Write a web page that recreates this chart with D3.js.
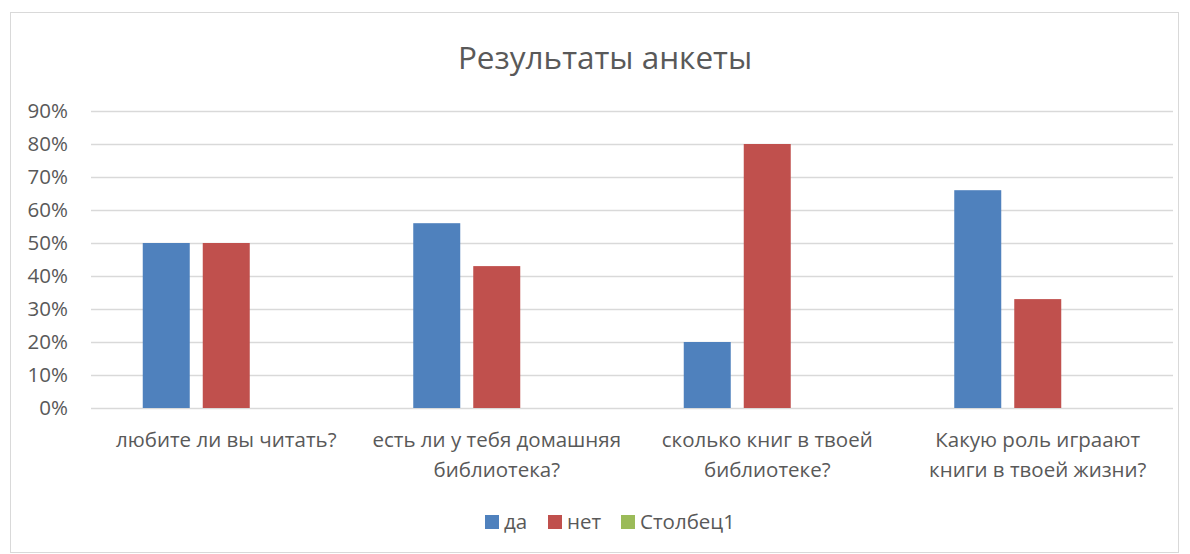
<!DOCTYPE html>
<html><head><meta charset="utf-8">
<script src="https://cdn.jsdelivr.net/npm/d3@7"></script>
<style>body{margin:0;background:#fff;} svg{display:block;} text{font-family:"Open Sans","Noto Sans",sans-serif;fill:#595959;}</style>
</head><body>
<svg id="c" width="1190" height="554"></svg>
<script>
const categories = [
  ["любите ли вы читать?"],
  ["есть ли у тебя домашняя", "библиотека?"],
  ["сколько книг в твоей", "библиотеке?"],
  ["Какую роль играают", "книги в твоей жизни?"]
];
const seriesNames = ["да", "нет", "Столбец1"];
const seriesColors = ["#4F81BD", "#C0504D", "#9BBB59"];
const daValues = [0.50, 0.56, 0.20, 0.66];
const netValues = [0.50, 0.43, 0.80, 0.33];
const stolbecValues = [null, null, null, null];
const yTicks = [0, 0.1, 0.2, 0.3, 0.4, 0.5, 0.6, 0.7, 0.8, 0.9];
const title = "Результаты анкеты";

const svg = d3.select("#c");
svg.append("rect").attr("x", 10.5).attr("y", 12.5).attr("width", 1168).attr("height", 540)
  .attr("fill", "#fff").attr("stroke", "#D9D9D9");

const pLeft = 91, pRight = 1173, pTop = 111, pBottom = 408;
const y = d3.scaleLinear().domain([0, 0.9]).range([pBottom, pTop]);
const x0 = d3.scaleBand().domain(d3.range(categories.length)).range([pLeft, pRight]);
const x1 = d3.scaleBand().domain(d3.range(seriesNames.length))
  .range([0, x0.bandwidth()]).paddingInner(0.2167).paddingOuter(0.8625);

svg.append("text").attr("x", 605).attr("y", 69).attr("text-anchor", "middle")
  .style("font-size", "31.5px").text(title);

const yAxis = d3.axisLeft(y).tickValues(yTicks).tickFormat(d3.format(".0%")).tickSize(-(pRight - pLeft)).tickPadding(23);
const gy = svg.append("g").attr("transform", `translate(${pLeft},0)`).call(yAxis);
gy.select(".domain").remove();
gy.selectAll(".tick line").attr("stroke", "#D9D9D9").attr("stroke-width", 1.3);
gy.selectAll(".tick text").style("font-size", "20.5px").attr("fill", "#595959");
gy.attr("font-family", null).attr("font-size", null);

const data = [daValues, netValues, stolbecValues];
const g = svg.append("g");
data.forEach((vals, si) => {
  g.selectAll(null).data(vals.map((v, i) => ({v, i})).filter(d => d.v != null)).enter()
    .append("rect")
    .attr("x", d => x0(d.i) + x1(si))
    .attr("width", x1.bandwidth())
    .attr("y", d => y(d.v))
    .attr("height", d => y(0) - y(d.v))
    .attr("fill", seriesColors[si]);
});

const gx = svg.append("g");
categories.forEach((lines, i) => {
  const cx = x0(i) + x0.bandwidth() / 2;
  const t = gx.append("text").attr("text-anchor", "middle").style("font-size", "20.5px")
    .attr("x", cx).attr("y", 447);
  lines.forEach((ln, k) => t.append("tspan").attr("x", cx).attr("dy", k ? 30 : 0).text(ln));
});

const legendX = [485, 548, 621];
seriesNames.forEach((n, i) => {
  svg.append("rect").attr("x", legendX[i]).attr("y", 515).attr("width", 14).attr("height", 14).attr("fill", seriesColors[i]);
  svg.append("text").attr("x", legendX[i] + 19).attr("y", 529).style("font-size", "20.5px").text(n);
});
</script>
</body></html>
